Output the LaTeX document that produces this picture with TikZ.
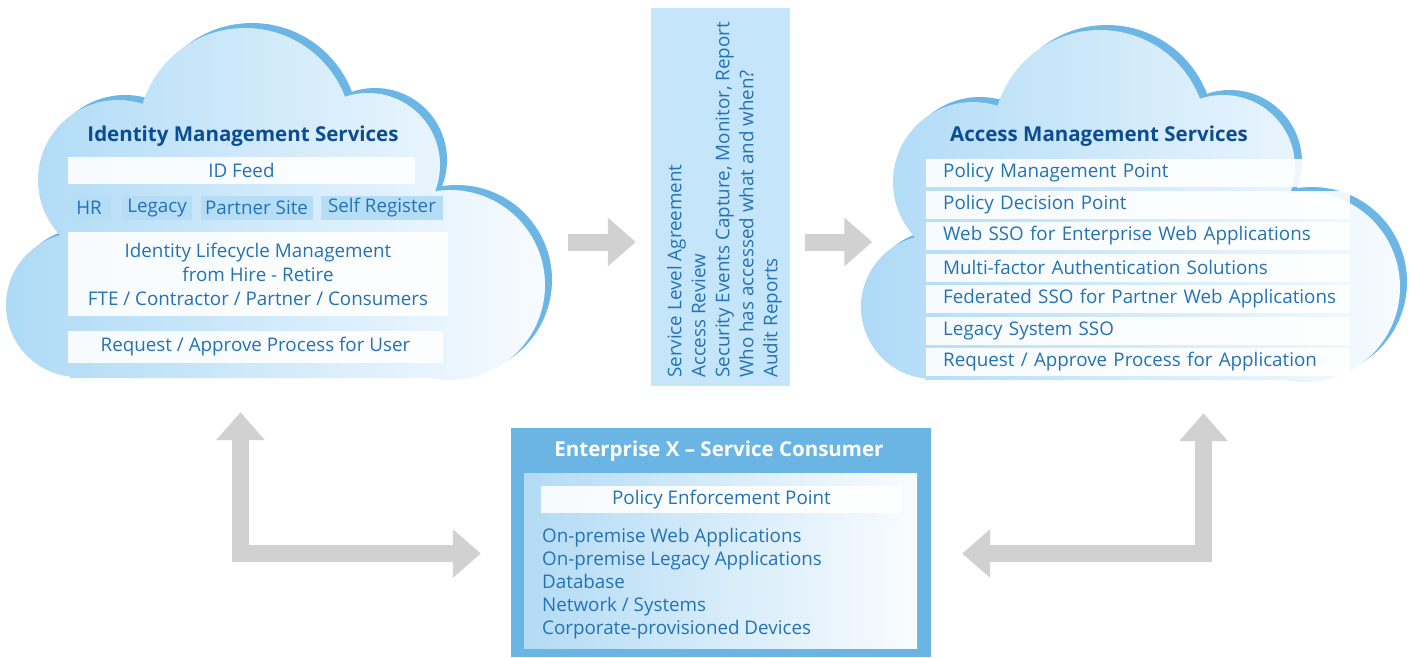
\documentclass[tikz,border=0pt]{standalone}
\usepackage{fontspec}
\setmainfont{Open Sans}
\usetikzlibrary{positioning}
\usetikzlibrary{calc}
\usetikzlibrary{arrows.meta}

\definecolor{cloudedge}{HTML}{6CB6E6}
\definecolor{cloudout}{HTML}{AEDAF6}
\definecolor{cloudin}{HTML}{F7FBFF}
\definecolor{textblue}{HTML}{2472B6}
\definecolor{titleblue}{HTML}{0B4C93}
\definecolor{auditblue}{HTML}{C5E6FA}
\definecolor{tagblue}{HTML}{B6DDF6}
\definecolor{entblue}{HTML}{6BB5E5}
\definecolor{entin}{HTML}{B3DBF5}
\definecolor{arrowgray}{HTML}{D1D1D1}

\newcommand{\cloudshape}{(118,180) circle (80) (245,135) circle (107) (368,165) circle (72) (450,285) circle (95) (78,305) circle (72) (460,200) rectangle (70,378)}

\begin{document}
\begin{tikzpicture}[x=1pt,y=-1pt,font=\fontsize{18.8}{24}\selectfont]
\tikzset{bar/.style = {fill=white, fill opacity=0.9, text opacity=1, text=textblue, inner sep=0pt},
	tag/.style = {fill=tagblue, text=textblue, inner sep=0pt, minimum height=24pt},
	row/.style = {bar, anchor=west, minimum height=28pt, text width=390pt, inner xsep=17pt, align=left},
	heading/.style = {text=titleblue, font=\bfseries\fontsize{20.5}{24}\selectfont},
	grayarrow/.style = {draw=arrowgray, line width=17pt, -{Triangle[width=47pt,length=28pt]}},
	twoway/.style = {draw=arrowgray, line width=17pt, {Triangle[width=47pt,length=28pt]}-{Triangle[width=47pt,length=28pt]}}}
\useasboundingbox (0,0) rectangle (1411,657);

\foreach \dx/\dy in {0/0, 855/2} {
	\begin{scope}[shift={(\dx,\dy)}]
		\fill[cloudedge, shift={(7,-5)}] \cloudshape;
		\shade[left color=cloudout, right color=cloudin] \cloudshape;
	\end{scope}
}

\node[minimum width=542pt, minimum height=355pt, inner sep=0pt] (IDM) at (279,205.5) {};
\node[minimum width=543pt, minimum height=355pt, inner sep=0pt] (ACM) at (1134,207.5) {};

\node[heading] (IDMT) at (243,136) {Identity Management Services};
\node[bar, minimum width=347pt, minimum height=27pt] (IDFEED) at (241.5,170.5) {ID Feed};
\node[tag, minimum width=42pt] (HR) at (89,208) {HR};
\node[tag, minimum width=70pt] (LEGACY) at (157,208) {Legacy};
\node[tag, minimum width=112pt] (PARTNER) at (256.5,208) {Partner Site};
\node[tag, minimum width=122pt] (SELFREG) at (382,208) {Self Register};
\node[bar, minimum width=380pt, minimum height=84pt, align=center] (LIFECYCLE) at (258,274)
	{Identity Lifecycle Management\\from Hire - Retire\\FTE / Contractor / Partner / Consumers};
\node[bar, minimum width=375pt, minimum height=32pt] (USERREQ) at (255.5,347) {Request / Approve Process for User};

\node[heading] (ACMT) at (1099,136) {Access Management Services};
\foreach \txt [count=\i] in {Policy Management Point, Policy Decision Point,
	Web SSO for Enterprise Web Applications, Multi-factor Authentication Solutions,
	Federated SSO for Partner Web Applications, Legacy System SSO,
	Request / Approve Process for Application}
	\node[row] (ROW\i) at (926,{141.5+31.5*\i}) {\mbox{\txt}};

\node[fill=auditblue, minimum width=139pt, minimum height=378pt, inner sep=0pt] (AUDIT) at (720.5,197) {};
\node[rotate=90, anchor=north west, align=left, text=textblue, inner sep=0pt] (AUDITTXT) at (667,378)
	{Service Level Agreement\\Access Review\\Security Events Capture, Monitor, Report\\Who has accessed what and when?\\Audit Reports};

\node[fill=entblue, minimum width=420pt, minimum height=229pt, inner sep=0pt] (ENT) at (721,542.5) {};
\node[text=white, font=\bfseries\fontsize{20.5}{24}\selectfont] (ENTT) at (719,451) {Enterprise X \textendash{} Service Consumer};
\node[left color=entin, right color=white!92!entin, minimum width=393pt, minimum height=175pt, inner sep=0pt] (ENTIN) at (720.5,560.5) {};
\node[bar, minimum width=361pt, minimum height=27pt] (PEP) at (721.5,499.5) {Policy Enforcement Point};
\node[anchor=north west, align=left, text=textblue, inner sep=0pt, font=\fontsize{18.8}{23}\selectfont] (APPS) at (542,528)
	{On-premise Web Applications\\On-premise Legacy Applications\\Database\\Network / Systems\\Corporate-provisioned Devices};

\coordinate (MID) at (0,242);
\draw[grayarrow, shorten <=18pt, shorten >=15pt] (IDM.east |- MID) -- (AUDIT.west |- MID);
\draw[grayarrow, shorten <=15pt, shorten >=-10pt] (AUDIT.east |- MID) -- (ACM.west |- MID);
\draw[twoway] ([xshift=-38.5pt,yshift=-29pt]IDM.south) |- ([xshift=-30pt,yshift=-11pt]ENT.west);
\draw[twoway] ([xshift=69.5pt,yshift=-28pt]ACM.south) |- ([xshift=31pt,yshift=-11pt]ENT.east);

\end{tikzpicture}
\end{document}
